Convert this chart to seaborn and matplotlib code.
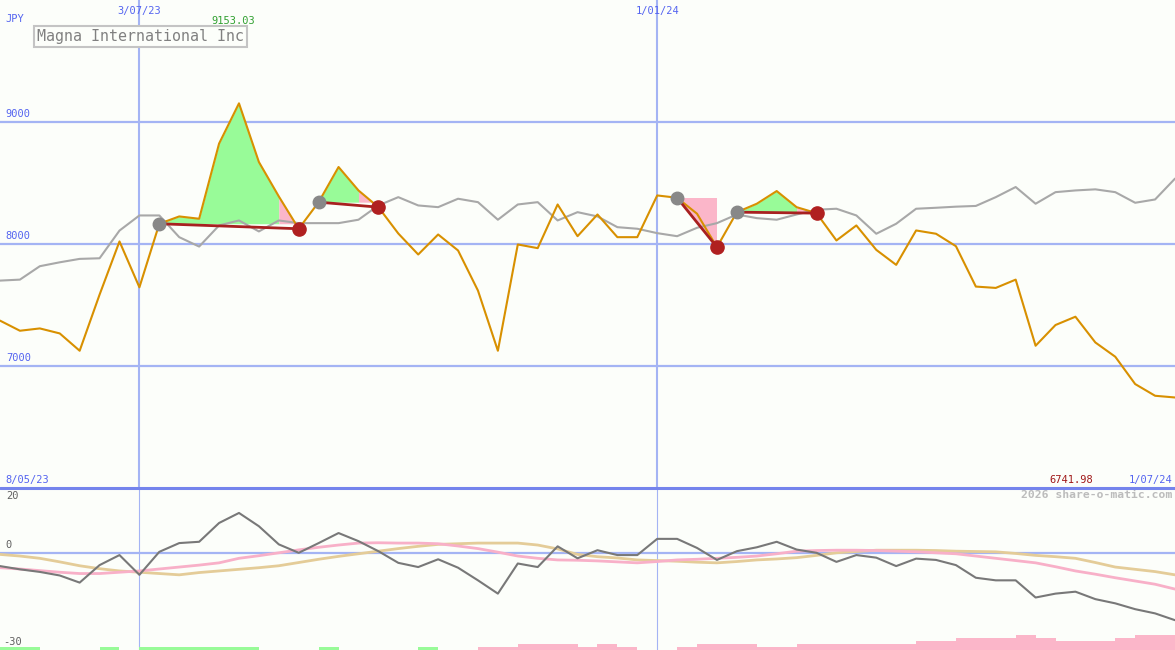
import numpy as np
import pandas as pd
import seaborn as sns
import matplotlib.pyplot as plt

# weekly closes, 15 May 2023 .. 1 Jul 2024
weeks = pd.date_range("2023-05-15", "2024-07-01", freq="7D")

price = [7372, 7289, 7308, 7267, 7125, 7585, 8021, 7645, 8166, 8226,
         8207, 8823, 9153.03, 8672, 8390, 8125, 8343, 8631, 8439, 8302,
         8086, 7914, 8078, 7947, 7618, 7125, 7996, 7966, 8324, 8064,
         8242, 8056, 8056, 8398, 8379, 8248, 7974, 8261, 8330, 8434,
         8302, 8253, 8029, 8152, 7952, 7829, 8111, 8084, 7982, 7651,
         7640, 7708, 7166, 7336, 7404, 7193, 7076, 6852, 6756, 6741.98]

average = [7700, 7708, 7818, 7850, 7878, 7883, 8110, 8234, 8234, 8056,
           7979, 8152, 8193, 8103, 8193, 8171, 8171, 8171, 8199, 8316,
           8384, 8316, 8302, 8371, 8343, 8199, 8324, 8343, 8193, 8261,
           8226, 8138, 8125, 8089, 8064, 8133, 8171, 8242, 8212, 8199,
           8242, 8281, 8289, 8234, 8084, 8166, 8289, 8297, 8306, 8312,
           8384, 8467, 8330, 8425, 8439, 8448, 8425, 8338, 8365, 8536]

momentum = [-4.1, -5.1, -5.9, -7.0, -9.2, -3.8, -0.7, -6.8, 0.3, 3.0,
            3.4, 9.2, 12.3, 8.2, 2.6, 0.0, 3.0, 6.1, 3.6, 0.5,
            -3.1, -4.4, -2.0, -4.6, -8.5, -12.6, -3.3, -4.4, 2.0, -1.7,
            0.8, -0.7, -0.7, 4.3, 4.3, 1.5, -2.2, 0.5, 1.7, 3.4,
            1.0, 0.0, -2.8, -0.7, -1.5, -4.1, -1.8, -2.2, -3.8, -7.7,
            -8.5, -8.5, -13.8, -12.6, -12.0, -14.3, -15.6, -17.4, -18.7, -20.8]

signal_fast = [-4.6, -5.0, -5.5, -6.0, -6.4, -6.4, -6.0, -5.6, -5.0, -4.4,
               -3.8, -3.1, -1.7, -0.9, 0.0, 0.9, 1.7, 2.4, 3.0, 3.1,
               3.0, 3.0, 2.8, 2.1, 1.3, 0.2, -1.0, -1.7, -2.2, -2.3,
               -2.5, -2.8, -3.1, -2.7, -2.2, -2.0, -1.7, -1.4, -1.0, -0.3,
               0.5, 0.7, 0.8, 0.8, 0.7, 0.5, 0.3, 0.0, -0.3, -1.0,
               -1.7, -2.4, -3.1, -4.3, -5.6, -6.6, -7.7, -8.7, -9.7, -11.2]

signal_slow = [-0.5, -1.0, -1.7, -2.8, -4.0, -4.9, -5.6, -6.0, -6.4, -6.8,
               -6.1, -5.6, -5.1, -4.6, -4.0, -3.0, -2.0, -1.1, -0.3, 0.5,
               1.3, 2.0, 2.6, 2.8, 3.0, 3.0, 3.0, 2.4, 1.2, -0.5,
               -1.2, -1.6, -2.2, -2.4, -2.6, -2.9, -3.1, -2.7, -2.2, -1.9,
               -1.5, -0.8, 0.0, 0.4, 0.8, 0.8, 0.8, 0.7, 0.5, 0.4,
               0.3, -0.2, -0.8, -1.2, -1.7, -3.0, -4.4, -5.1, -5.8, -6.8]

# weekly strength bars (one per week interval), + green / - pink
strength = [0.9, 0.9, 0, 0, 0, 0.9, 0, 0.9, 0.9, 0.9,
            0.9, 0.9, 0.9, 0, 0, 0, 0.9, 0, 0, 0,
            0, 0.9, 0, 0, -0.9, -0.9, -1.8, -1.8, -1.8, -0.9,
            -1.8, -0.9, 0, 0, -0.9, -1.8, -1.8, -1.8, -0.9, -0.9,
            -1.8, -1.8, -1.8, -1.8, -1.8, -1.8, -2.8, -2.8, -3.7, -3.7,
            -3.7, -4.6, -3.7, -2.8, -2.8, -2.8, -3.7, -4.6, -4.6]

# trend segments as (start week, end week, pink starts at week)
segments = [(8, 15, 14), (16, 19, 18), (34, 36, 34), (37, 41, 40)]

date_marks = ["2023-07-03", "2024-01-01"]

BG = "#fcfefa"
GRID = "#a4b4f4"
BLUE = "#5464f0"
GREEN = "#98fb98"
PINK = "#fbb6c9"
DARKRED = "#a82020"

sns.set_style("white")
plt.rcParams["font.family"] = ["DejaVu Sans Mono"]

fig = plt.figure(figsize=(11.75, 6.5), dpi=100, facecolor=BG)
ax = fig.add_axes([0, 162 / 650, 1, 488 / 650])
low = fig.add_axes([0, 0, 1, 162 / 650])

p = np.array(price)
for a in (ax, low):
    a.set_facecolor(BG)
    for s in a.spines.values():
        s.set_visible(False)
    a.set_xticks([])
    a.set_yticks([])
    a.set_xlim(weeks[0], weeks[-1])
    for d in date_marks:
        a.axvline(pd.Timestamp(d), color=GRID, lw=1.5 if a is ax else 0.8, zorder=1)

# ---- main panel ----
ax.set_ylim(6000, 10000)
for lvl in (7000, 8000, 9000):
    ax.axhline(lvl, color=GRID, lw=1.6, zorder=1)

for start, end, pink_from in segments:
    level = p[start]
    if pink_from > start:
        xs = weeks[start:pink_from + 1]
        ys = p[start:pink_from + 1]
        ax.fill_between(xs, ys, level, where=ys >= level, interpolate=True,
                        color=GREEN, lw=0, zorder=2)
        xs = weeks[pink_from:end + 1]
        ys = p[pink_from:end + 1]
        ax.fill_between(xs, ys, level, where=ys >= level, interpolate=True,
                        color=PINK, lw=0, zorder=2)
    else:
        ax.fill([weeks[start], weeks[end], weeks[end]], [level, level, p[end]],
                color=PINK, lw=0, zorder=2)

sns.lineplot(x=weeks, y=average, ax=ax, color="#a8a8a8", lw=1.5, zorder=3)
sns.lineplot(x=weeks, y=price, ax=ax, color="#d89000", lw=1.5, zorder=4)

for start, end, _ in segments:
    ax.plot([weeks[start], weeks[end]], [p[start], p[end]], color=DARKRED,
            lw=2, zorder=5)
    ax.plot(weeks[start], p[start], "o", ms=9, color="#888888", zorder=6)
    ax.plot(weeks[end], p[end], "o", ms=9.5, color="#b02020", zorder=6)

yt = ax.get_yaxis_transform()
for lvl in (7000, 8000, 9000):
    ax.text(0.005, lvl + 25, str(lvl), transform=yt, color=BLUE, fontsize=7.5,
            va="bottom", ha="left")
xt = ax.get_xaxis_transform()
for d in date_marks:
    ts = pd.Timestamp(d)
    ax.text(ts, 0.988, f"{ts.day}/{ts.month:02d}/{ts.strftime('%y')}",
            transform=xt, color=BLUE, fontsize=7.5, va="top", ha="center")
ax.text(0.005, 0.972, "JPY", transform=ax.transAxes, color=BLUE,
        fontsize=7.5, va="top", ha="left")
imax = int(np.argmax(p))
ax.text(weeks[imax] - pd.Timedelta(days=2), 0.968, f"{p.max():.2f}",
        transform=xt, color="#30a030", fontsize=7.5, va="top", ha="center")
ax.text(0.005, 0.006, "8/05/23", transform=ax.transAxes, color=BLUE,
        fontsize=7.5, va="bottom", ha="left")
ax.text(0.93, 0.006, f"{p.min():.2f}", transform=ax.transAxes,
        color="#a01818", fontsize=7.5, va="bottom", ha="right")
ax.text(0.998, 0.006, "1/07/24", transform=ax.transAxes, color=BLUE,
        fontsize=7.5, va="bottom", ha="right")

fig.text(37 / 1175, 1 - 36.5 / 650, "Magna International Inc", color="#808080",
         fontsize=10.8, va="center", ha="left",
         bbox=dict(boxstyle="square,pad=0.22", fc=BG, ec="#c4c4c4", lw=1.5))

# ---- lower panel ----
low.set_ylim(-30, 20)
low.axhline(0, color=GRID, lw=1.6, zorder=1)
low.axhline(20, color="#7484ec", lw=2.2, zorder=5, clip_on=False)

s = np.array(strength)
low.bar(weeks[:-1], np.abs(s), width=7, bottom=-30, align="edge",
        color=np.where(s > 0, GREEN, PINK), lw=0, zorder=2)

sns.lineplot(x=weeks, y=signal_slow, ax=low, color="#e4cc98", lw=2, zorder=3)
sns.lineplot(x=weeks, y=signal_fast, ax=low, color="#f8b0c8", lw=2, zorder=3)
sns.lineplot(x=weeks, y=momentum, ax=low, color="#787878", lw=1.5, zorder=4)

lyt = low.get_yaxis_transform()
low.text(0.005, 19, "20", transform=lyt, color="#606060", fontsize=7.5,
         va="top", ha="left")
low.text(0.005, 1, "0", transform=lyt, color="#606060", fontsize=7.5,
         va="bottom", ha="left")
low.text(0.003, -29, "-30", transform=lyt, color="#606060", fontsize=7.5,
         va="bottom", ha="left")
low.text(0.998, 0.985, "2026 share-o-matic.com", transform=low.transAxes,
         color="#bcbcbc", fontsize=8.2, fontweight="bold", va="top", ha="right")

for a in (ax, low):
    a.set_xlabel("")
    a.set_ylabel("")

fig.savefig("out.png", dpi=100, facecolor=BG)
